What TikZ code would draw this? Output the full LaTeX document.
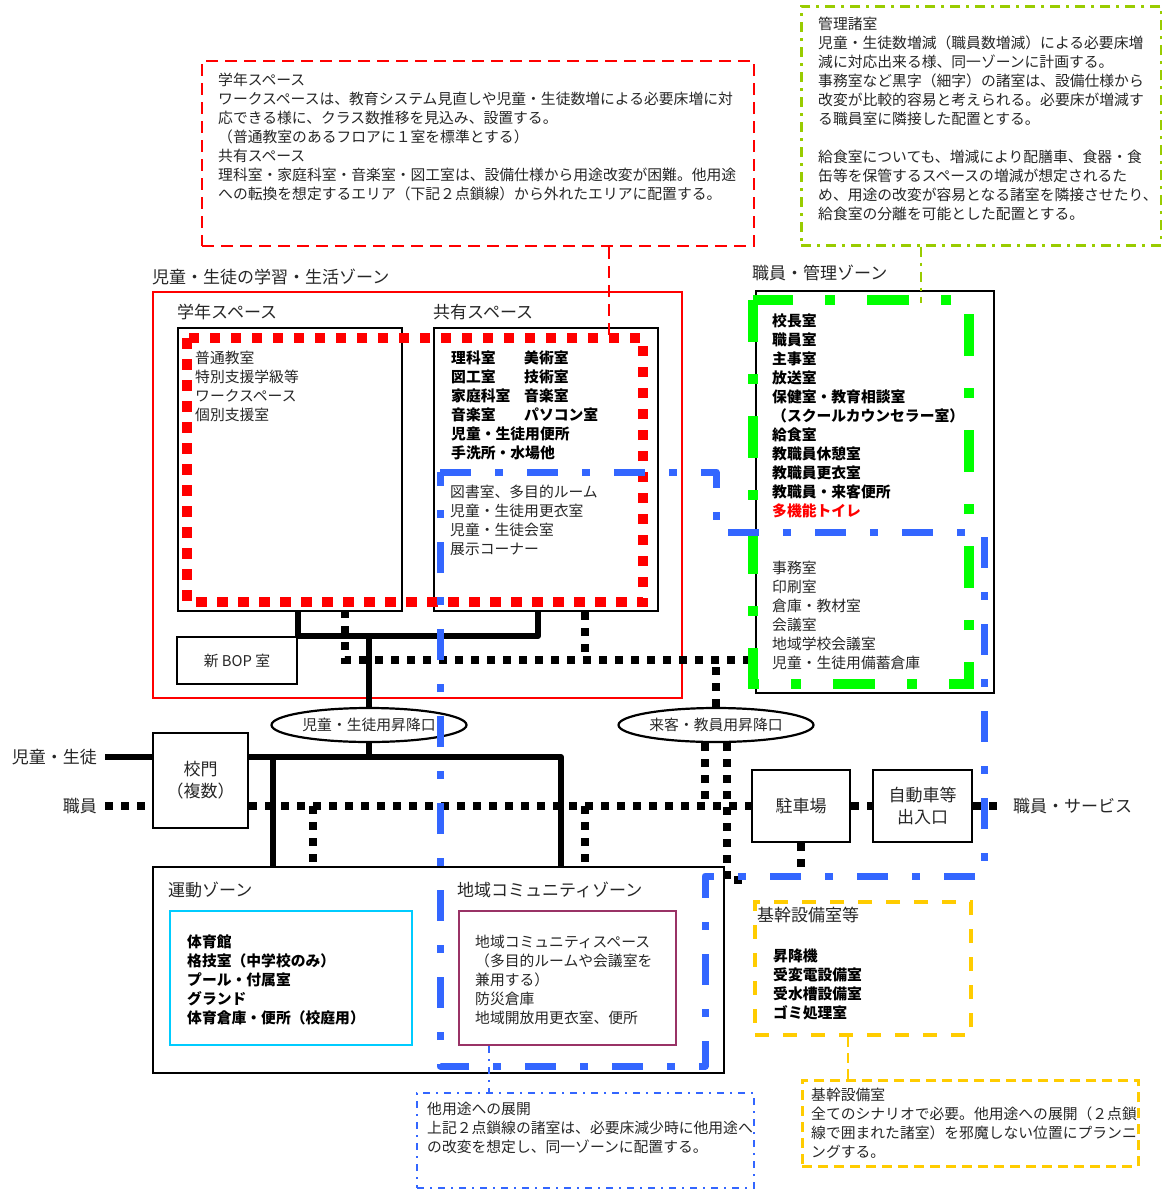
\documentclass[tikz,border=0pt]{standalone}
\usepackage{fontspec}
\setmainfont{Noto Sans CJK JP}
\usetikzlibrary{shapes.geometric}

\definecolor{admingreen}{RGB}{0,255,0}
\definecolor{leaf}{RGB}{153,204,0}
\definecolor{chainblue}{RGB}{51,102,255}
\definecolor{plant}{RGB}{255,204,0}
\definecolor{sport}{RGB}{0,204,255}
\definecolor{plum}{RGB}{153,51,102}

\begin{document}
\begin{tikzpicture}[x=1pt,y=-1pt,
    body/.style={align=left,anchor=north west,inner sep=0pt,text=black!85,font=\fontsize{14.8}{19}\selectfont},
    strong/.style={body,text=black,font=\fontsize{14.8}{19}\selectfont\bfseries},
    zonelabel/.style={anchor=north west,inner sep=0pt,text=black!85,font=\fontsize{17}{21}\selectfont},
    room/.style={draw,line width=2.2pt,anchor=north west,inner sep=0pt},
    gatebox/.style={draw,line width=2.2pt,align=center,inner sep=0pt,text=black!85,font=\fontsize{17}{22}\selectfont},
    entrance/.style={draw,ellipse,line width=2.2pt,minimum width=195pt,minimum height=34pt,inner sep=0pt,text=black!85,font=\fontsize{14.8}{19}\selectfont},
    sidelabel/.style={inner xsep=8pt,inner ysep=0pt,text=black!85,font=\fontsize{17}{21}\selectfont},
    pupilline/.style={line width=6pt,line join=round},
    staffline/.style={line width=8pt,dash pattern=on 8pt off 8pt},
    fixedrooms/.style={draw=red,line width=10pt,dash pattern=on 10.5pt off 10.5pt},
    adminrooms/.style={draw=admingreen,line width=10pt,dash pattern=on 42pt off 32pt on 10pt off 32pt},
    convertible/.style={draw=chainblue,line width=7pt,dash pattern=on 31pt off 24pt on 8pt off 24pt,line join=round},
    rednote/.style={draw=red,line width=2.4pt,dash pattern=on 12pt off 7pt},
    greennote/.style={draw=leaf,line width=2.6pt,dash pattern=on 10pt off 6pt on 3pt off 6pt},
    bluenote/.style={draw=chainblue,line width=2pt,dash pattern=on 7pt off 6pt on 2pt off 6pt},
    yellownote/.style={draw=plant,line width=2.6pt,dash pattern=on 10pt off 6pt}]
  \useasboundingbox (0,0) rectangle (1162,1189);

  % notes
  \node[rednote,anchor=north west,minimum width=552pt,minimum height=185pt] (notegakunen) at (201,60) {};
  \node[greennote,anchor=north west,minimum width=360pt,minimum height=239pt] (notekanri) at (800,5) {};
  \node[bluenote,anchor=north west,minimum width=337pt,minimum height=95pt] (notetayoto) at (416,1092) {};
  \node[yellownote,anchor=north west,minimum width=336pt,minimum height=86pt] (notekikan) at (801,1079) {};

  % zones and rooms
  \node[room,draw=red,line width=2pt,minimum width=529pt,minimum height=406pt] (seikatsu) at (152,291) {};
  \node[room,minimum width=224pt,minimum height=283pt] (gakunen) at (177,327) {};
  \node[room,minimum width=224pt,minimum height=283pt] (kyouyu) at (433,327) {};
  \node[room,minimum width=120pt,minimum height=47pt,anchor=center,text=black!85,font=\fontsize{14.8}{19}\selectfont] (bop) at (237,660.5) {新 BOP 室};
  \node[room,minimum width=238pt,minimum height=402pt] (kanri) at (755,290) {};
  \node[room,minimum width=571pt,minimum height=206pt] (undo) at (152,866) {};
  \node[room,draw=sport,minimum width=242pt,minimum height=134pt] (taiiku) at (169,910) {};
  \node[room,draw=plum,minimum width=217pt,minimum height=134pt] (chiiki) at (458,910) {};
  \node[room,draw=plant,line width=4pt,dash pattern=on 14pt off 14pt,minimum width=216pt,minimum height=133pt] (kikan) at (753,900) {};
  \node[gatebox,minimum width=95pt,minimum height=95pt] (koumon) at (200.5,780.5) {校門\\（複数）};
  \node[gatebox,minimum width=98pt,minimum height=72pt] (chusha) at (801,806) {駐車場};
  \node[gatebox,minimum width=99pt,minimum height=72pt] (jidosha) at (922.5,806) {自動車等\\出入口};
  \node[entrance] (ent1) at (369,725) {児童・生徒用昇降口};
  \node[entrance] (ent2) at (716,725) {来客・教員用昇降口};
  \node[sidelabel,anchor=east] (pupil) at (105,757) {児童・生徒};
  \node[sidelabel,anchor=east] (staff) at (105,806) {職員};
  \node[sidelabel,anchor=west] (service) at (1005,806) {職員・サービス};

  % pupil routes
  \coordinate (hub) at (369,636);
  \coordinate (gatejoin) at (369,757);
  \draw[pupilline] (bop.east |- gakunen.south) |- (hub) -| ([xshift=105pt]kyouyu.south west);
  \draw[pupilline] (hub) -- (ent1.north);
  \draw[pupilline] (ent1.south) -- (gatejoin);
  \draw[pupilline] (pupil.east) -- (pupil.east -| koumon.west);
  \draw[pupilline] (pupil.east -| koumon.east) -| ([xshift=409pt]undo.north west);
  \draw[pupilline] ([xshift=121pt]undo.north west |- pupil.east) -- ([xshift=121pt]undo.north west);

  % staff routes
  \coordinate (upleft) at (345,610);
  \coordinate (kanrilink) at (755,660);
  \coordinate (kikanlink) at (748,880);
  \coordinate (chushaend) at (801,872);
  \draw[staffline] (upleft) |- (kanrilink);
  \draw[staffline] ([xshift=152pt]kyouyu.south west) -- ([xshift=152pt]kyouyu.south west |- kanrilink);
  \draw[staffline] (ent2.north) -- (ent2.north |- kanrilink);
  \draw[staffline] (staff.east) -- (staff.east -| koumon.west);
  \draw[staffline] (staff.east -| koumon.east) -- (chusha.west);
  \draw[staffline] (chusha.east) -- (jidosha.west);
  \draw[staffline] (jidosha.east) -- (service.west);
  \draw[staffline] ([xshift=161pt]undo.north west |- staff.east) -- ([xshift=161pt]undo.north west);
  \draw[staffline] ([xshift=433pt]undo.north west |- staff.east) -- ([xshift=433pt]undo.north west);
  \draw[staffline] ([xshift=-11pt]ent2.south) -- ([xshift=-11pt]ent2.south |- staff.east);
  \draw[staffline] ([xshift=11pt]ent2.south) |- (kikanlink);
  \draw[staffline] (chusha.south) -- (chushaend);

  % note leaders
  \draw[rednote] ([xshift=408pt]notegakunen.south west) -- ++(0,93);
  \draw[greennote] ([xshift=121pt]notekanri.south west) -- ++(0,56);
  \draw[yellownote] ([xshift=95pt]kikan.south west) -- ([xshift=95pt]kikan.south west |- notekikan.north);
  \draw[bluenote] ([xshift=31pt]chiiki.south west) -- ([xshift=31pt]chiiki.south west |- notetayoto.north);

  % chain outlines
  \draw[fixedrooms] (187,338) rectangle (643,602);
  \draw[adminrooms] (753,300) rectangle (969,684);
  \draw[convertible] (440,472) -- (716,472) -- (716,532) -- (984,532) -- (984,876)
    -- (705,876) -- (705,1066) -- (440,1066) -- cycle;

  % texts
  \node[body] (notegakunentxt) at (218,73) {学年スペース\\
    ワークスペースは、教育システム見直しや児童・生徒数増による必要床増に対\\
    応できる様に、クラス数推移を見込み、設置する。\\
    （普通教室のあるフロアに１室を標準とする）\\
    共有スペース\\
    理科室・家庭科室・音楽室・図工室は、設備仕様から用途改変が困難。他用途\\
    への転換を想定するエリア（下記２点鎖線）から外れたエリアに配置する。};
  \node[body] (notekanritxt) at (818,17) {管理諸室\\
    児童・生徒数増減（職員数増減）による必要床増\\
    減に対応出来る様、同一ゾーンに計画する。\\
    事務室など黒字（細字）の諸室は、設備仕様から\\
    改変が比較的容易と考えられる。必要床が増減す\\
    る職員室に隣接した配置とする。\\[19pt]
    給食室についても、増減により配膳車、食器・食\\
    缶等を保管するスペースの増減が想定されるた\\
    め、用途の改変が容易となる諸室を隣接させたり、\\
    給食室の分離を可能とした配置とする。};
  \node[body] (notetayototxt) at (427,1102) {他用途への展開\\
    上記２点鎖線の諸室は、必要床減少時に他用途へ\\
    の改変を想定し、同一ゾーンに配置する。};
  \node[body] (notekikantxt) at (811,1088) {基幹設備室\\
    全てのシナリオで必要。他用途への展開（２点鎖\\
    線で囲まれた諸室）を邪魔しない位置にプランニ\\
    ングする。};

  \node[zonelabel] (seikatsulbl) at (152,269) {児童・生徒の学習・生活ゾーン};
  \node[zonelabel] (gakunenlbl) at (177,304) {学年スペース};
  \node[zonelabel] (kyouyulbl) at (433,304) {共有スペース};
  \node[zonelabel] (kanrilbl) at (752,265) {職員・管理ゾーン};
  \node[zonelabel] (undolbl) at (168,882) {運動ゾーン};
  \node[zonelabel] (chiikilbl) at (457,882) {地域コミュニティゾーン};
  \node[zonelabel] (kikanlbl) at (757,907) {基幹設備室等};

  \node[body] (gakunenlist) at (195,351) {普通教室\\特別支援学級等\\ワークスペース\\個別支援室};
  \node[strong] (kyouyulist) at (451,351) {理科室\\図工室\\家庭科室\\音楽室\\児童・生徒用便所\\手洗所・水場他};
  \node[strong] (kyouyulist2) at (524,351) {美術室\\技術室\\音楽室\\パソコン室};
  \node[body] (kyouyusub) at (450,485) {図書室、多目的ルーム\\児童・生徒用更衣室\\児童・生徒会室\\展示コーナー};
  \node[strong] (kanrilist) at (772,314) {校長室\\職員室\\主事室\\放送室\\保健室・教育相談室\\（スクールカウンセラー室）\\給食室\\教職員休憩室\\教職員更衣室\\教職員・来客便所\\{\color{red}多機能トイレ}};
  \node[body] (kanrisub) at (772,561) {事務室\\印刷室\\倉庫・教材室\\会議室\\地域学校会議室\\児童・生徒用備蓄倉庫};
  \node[strong] (taiikulist) at (187,935) {体育館\\格技室（中学校のみ）\\プール・付属室\\グランド\\体育倉庫・便所（校庭用）};
  \node[body] (chiikilist) at (475,935) {地域コミュニティスペース\\（多目的ルームや会議室を\\兼用する）\\防災倉庫\\地域開放用更衣室、便所};
  \node[strong] (kikanlist) at (773,949) {昇降機\\受変電設備室\\受水槽設備室\\ゴミ処理室};
\end{tikzpicture}
\end{document}
